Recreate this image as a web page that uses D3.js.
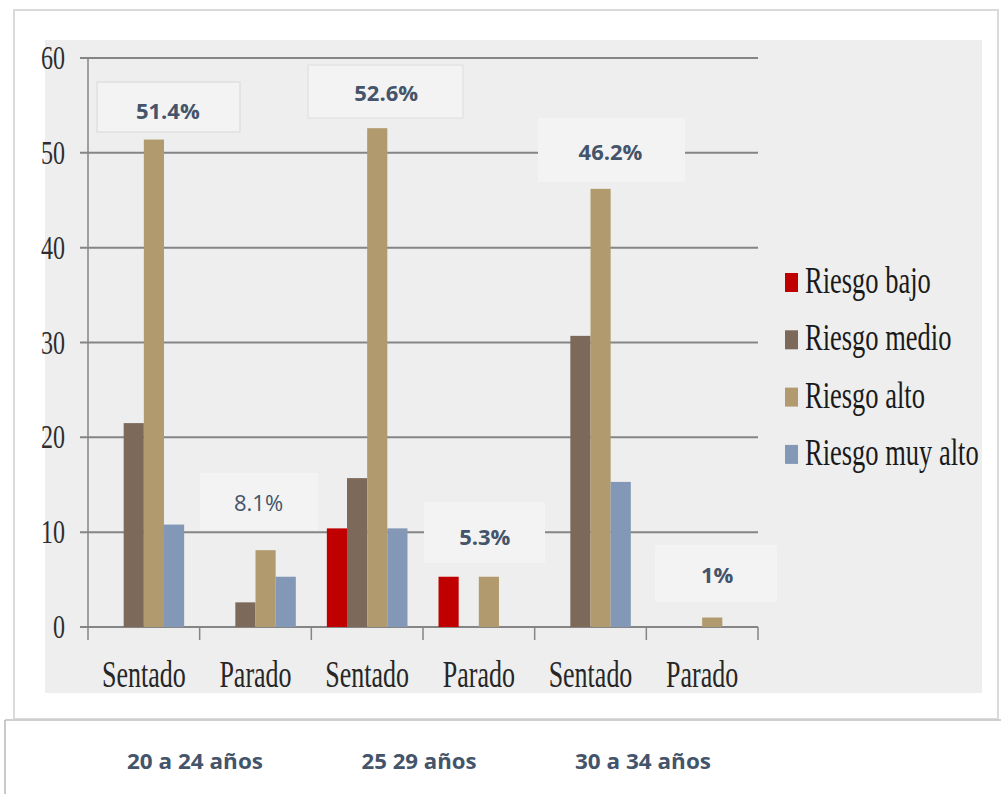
<!DOCTYPE html>
<html>
<head>
<meta charset="utf-8">
<script src="https://cdn.jsdelivr.net/npm/d3@7"></script>
<style>
  html, body { margin: 0; padding: 0; background: #ffffff; }
  svg { display: block; }
</style>
</head>
<body>
<svg id="chart" width="1001" height="794"></svg>
<script>
// ---- data ----
const categories = ["Sentado", "Parado", "Sentado", "Parado", "Sentado", "Parado"];
const series = ["Riesgo bajo", "Riesgo medio", "Riesgo alto", "Riesgo muy alto"];
const riesgoBajo    = [0,    0,   10.4, 5.3, 0,    0];
const riesgoMedio   = [21.5, 2.6, 15.7, 0,   30.7, 0];
const riesgoAlto    = [51.4, 8.1, 52.6, 5.3, 46.2, 1.0];
const riesgoMuyAlto = [10.8, 5.3, 10.4, 0,   15.3, 0];
const yTicks = [0, 10, 20, 30, 40, 50, 60];
const ageGroups = ["20 a 24 años", "25 29 años", "30 a 34 años"];
const annotations = ["51.4%", "8.1%", "52.6%", "5.3%", "46.2%", "1%"];

const colors = ["#c00000", "#7d6959", "#b19b6e", "#8397b6"];
const values = [riesgoBajo, riesgoMedio, riesgoAlto, riesgoMuyAlto];

const svg = d3.select("#chart");

// ---- frame ----
svg.append("rect").attr("x", 14).attr("y", 10).attr("width", 984).attr("height", 709)
  .attr("fill", "#ffffff").attr("stroke", "#dadada").attr("stroke-width", 2);
svg.append("line").attr("x1", 5).attr("x2", 1001).attr("y1", 720).attr("y2", 720)
  .attr("stroke", "#cfcfcf").attr("stroke-width", 2);
svg.append("line").attr("x1", 5).attr("x2", 5).attr("y1", 720).attr("y2", 794)
  .attr("stroke", "#b8b8b8").attr("stroke-width", 1.5);
svg.append("rect").attr("x", 45).attr("y", 40).attr("width", 937).attr("height", 653)
  .attr("fill", "#eeeeee");

// ---- scales ----
const keys = categories.map((c, i) => i);
const x0 = d3.scaleBand().domain(keys).range([88, 758]).paddingInner(0).paddingOuter(0);
const x1 = d3.scaleBand().domain(series).range([0, x0.bandwidth()]).paddingInner(0).paddingOuter(0.77);
const y = d3.scaleLinear().domain([0, 60]).range([627, 58]);

// ---- gridlines ----
svg.append("g").selectAll("line").data(yTicks).join("line")
  .attr("x1", 80).attr("x2", 758)
  .attr("y1", d => y(d)).attr("y2", d => y(d))
  .attr("stroke", "#858585").attr("stroke-width", 2);

// y axis line
svg.append("line").attr("x1", 88).attr("x2", 88).attr("y1", y(60)).attr("y2", y(0))
  .attr("stroke", "#858585").attr("stroke-width", 1.5);

// x axis ticks at band boundaries
const bounds = keys.map(k => x0(k)).concat([x0(keys[keys.length - 1]) + x0.bandwidth()]);
svg.append("g").selectAll("line").data(bounds).join("line")
  .attr("x1", d => d).attr("x2", d => d).attr("y1", y(0)).attr("y2", y(0) + 13)
  .attr("stroke", "#858585").attr("stroke-width", 1.5);

// ---- bars ----
const barData = [];
keys.forEach(k => series.forEach((s, si) => barData.push({ k, s, si, v: values[si][k] })));
svg.append("g").selectAll("rect").data(barData.filter(d => d.v > 0)).join("rect")
  .attr("x", d => x0(d.k) + x1(d.s))
  .attr("width", x1.bandwidth())
  .attr("y", d => y(d.v))
  .attr("height", d => y(0) - y(d.v))
  .attr("fill", d => colors[d.si]);

// ---- y tick labels (stretched serif) ----
svg.append("g").selectAll("text").data(yTicks).join("text")
  .attr("transform", d => `translate(65,${y(d) + 11}) scale(1,1.4)`)
  .attr("text-anchor", "end")
  .attr("font-family", "Liberation Serif, Times New Roman, serif")
  .attr("font-size", 24)
  .attr("fill", "#2e2e2e")
  .text(d => d);

// ---- category labels ----
svg.append("g").selectAll("text").data(keys).join("text")
  .attr("transform", k => `translate(${x0(k) + x0.bandwidth() / 2},687) scale(1,1.42)`)
  .attr("text-anchor", "middle")
  .attr("font-family", "Liberation Serif, Times New Roman, serif")
  .attr("font-size", 26)
  .attr("fill", "#262626")
  .text(k => categories[k]);

// ---- legend ----
const lg = svg.append("g").selectAll("g").data(series).join("g")
  .attr("transform", (d, i) => `translate(785,${293 + i * 57.3})`);
lg.append("rect").attr("x", 0).attr("y", -20).attr("width", 13).attr("height", 19)
  .attr("fill", (d, i) => colors[i]);
lg.append("text")
  .attr("transform", "translate(20,0) scale(1,1.45)")
  .attr("font-family", "Liberation Serif, Times New Roman, serif")
  .attr("font-size", 26.5)
  .attr("fill", "#1a1a1a")
  .text(d => d);

// ---- annotation boxes ----
const annLayout = [
  { dx: 24,  bx0: 97,  bx1: 240, by0: 82,  by1: 132, ty: 111, bold: true,  stroke: "#e0e0e0" },
  { dx: 3,   bx0: 200, bx1: 318, by0: 473, by1: 530, ty: 503, bold: false, stroke: "none" },
  { dx: 19,  bx0: 308, bx1: 463, by0: 65,  by1: 118, ty: 93,  bold: true,  stroke: "#e4e4e4" },
  { dx: 6,   bx0: 424, bx1: 545, by0: 502, by1: 563, ty: 537, bold: true,  stroke: "none" },
  { dx: 20,  bx0: 538, bx1: 685, by0: 118, by1: 182, ty: 152, bold: true,  stroke: "none" },
  { dx: 15,  bx0: 655, bx1: 777, by0: 545, by1: 602, ty: 575, bold: true,  stroke: "none" }
];
const ann = svg.append("g").selectAll("g").data(keys).join("g");
ann.append("rect")
  .attr("x", k => annLayout[k].bx0).attr("y", k => annLayout[k].by0)
  .attr("width", k => annLayout[k].bx1 - annLayout[k].bx0)
  .attr("height", k => annLayout[k].by1 - annLayout[k].by0)
  .attr("fill", "#f3f3f3")
  .attr("stroke", k => annLayout[k].stroke).attr("stroke-width", 1.5);
ann.append("text")
  .attr("x", k => x0(k) + x0.bandwidth() / 2 + annLayout[k].dx)
  .attr("y", k => annLayout[k].ty + 8)
  .attr("text-anchor", "middle")
  .attr("font-family", "Open Sans, sans-serif")
  .attr("font-weight", k => annLayout[k].bold ? 700 : 400)
  .attr("font-size", 22)
  .attr("fill", "#44546a")
  .text(k => annotations[k]);

// ---- age group labels ----
const ageX = [195, 419, 643];
const ageW = [136, 115, 136];
svg.append("g").selectAll("text").data(ageGroups).join("text")
  .attr("x", (d, i) => ageX[i]).attr("y", 769)
  .attr("text-anchor", "middle")
  .attr("font-family", "Open Sans, sans-serif")
  .attr("font-weight", 700)
  .attr("font-size", 21)
  .attr("textLength", (d, i) => ageW[i])
  .attr("lengthAdjust", "spacingAndGlyphs")
  .attr("fill", "#44546a")
  .text(d => d);
</script>
</body>
</html>
